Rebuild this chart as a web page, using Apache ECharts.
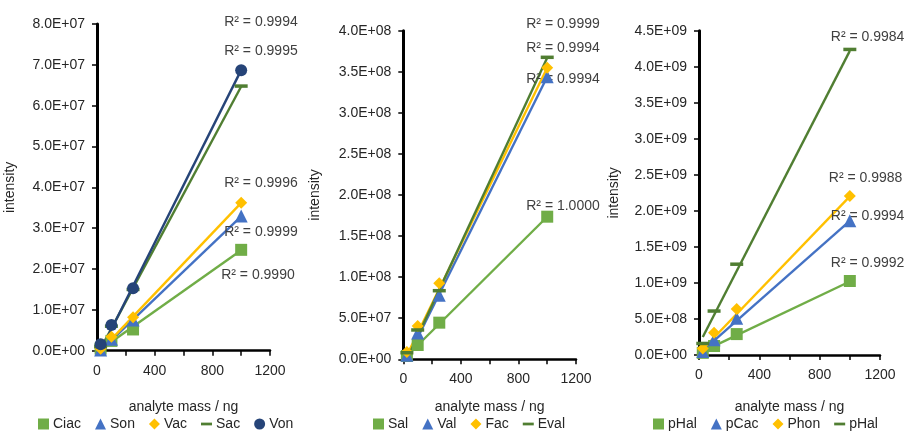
<!DOCTYPE html>
<html><head><meta charset="utf-8">
<script src="https://cdn.jsdelivr.net/npm/echarts@6/dist/echarts.min.js"></script>
<style>html,body{margin:0;padding:0;background:#fff}#c{width:904px;height:433px}</style>
</head><body><div id="c"></div>
<script>
// ---- data ----
const xMass = [25, 100, 250, 1000];
const trendX = [25, 1000];

// chart 1
const names1 = ['Ciac', 'Son', 'Vac', 'Sac', 'Von'];
const ciac = [0.05e7, 0.24e7, 0.52e7, 2.47e7];
const son  = [0.02e7, 0.28e7, 0.75e7, 3.30e7];
const vac  = [0.05e7, 0.34e7, 0.82e7, 3.62e7];
const sac  = [0.10e7, 0.60e7, 1.50e7, 6.48e7];
const von  = [0.16e7, 0.63e7, 1.53e7, 6.87e7];
const ciacTrend = [0.03e7, 2.46e7];
const sonTrend  = [0.00e7, 3.29e7];
const vacTrend  = [0.00e7, 3.62e7];
const sacTrend  = [0.05e7, 6.47e7];
const vonTrend  = [0.00e7, 6.87e7];
const r2_1 = ['R² = 0.9990', 'R² = 0.9999', 'R² = 0.9996', 'R² = 0.9994', 'R² = 0.9995'];

// chart 2
const names2 = ['Sal', 'Val', 'Fac', 'Eval'];
const sal   = [0.04e8, 0.174e8, 0.446e8, 1.736e8];
const val   = [0.05e8, 0.32e8, 0.78e8, 3.44e8];
const fac   = [0.09e8, 0.405e8, 0.925e8, 3.55e8];
const evalD = [0.08e8, 0.357e8, 0.835e8, 3.676e8];
const salTrend  = [0.04e8, 1.735e8];
const valTrend  = [0.00e8, 3.44e8];
const facTrend  = [0.05e8, 3.55e8];
const evalTrend = [0.00e8, 3.67e8];
const r2_2 = ['R² = 1.0000', 'R² = 0.9994', 'R² = 0.9994', 'R² = 0.9999'];

// chart 3
const names3 = ['pHal', 'pCac', 'Phon', 'pHal '];
const pHal  = [0.03e9, 0.125e9, 0.29e9, 1.027e9];
const pCac  = [0.05e9, 0.21e9, 0.51e9, 1.864e9];
const phon  = [0.09e9, 0.31e9, 0.638e9, 2.206e9];
const pHal2 = [0.16e9, 0.61e9, 1.26e9, 4.24e9];
const pHalTrend  = [0.05e9, 1.02e9];
const pCacTrend  = [0.06e9, 1.86e9];
const phonTrend  = [0.08e9, 2.20e9];
const pHal2Trend = [0.25e9, 4.22e9];
const r2_3 = ['R² = 0.9992', 'R² = 0.9994', 'R² = 0.9988', 'R² = 0.9984'];

// ---- styles ----
const C_GREEN = '#70AD47', C_BLUE = '#4472C4', C_GOLD = '#FFC000', C_DKGREEN = '#507E32', C_NAVY = '#264478';
const SYM = {
  square: {symbol: 'rect', size: 12},
  tri: {symbol: 'triangle', size: 13},
  dia: {symbol: 'diamond', size: 12},
  dash: {symbol: 'rect', size: [13, 3.5]},
  circ: {symbol: 'circle', size: 12}
};
const LEG_ICON = {square: 'rect', tri: 'triangle', dia: 'diamond', dash: 'path://M0,4.5H12V7.5H0Z', circ: 'circle'};
const FONT = 'Liberation Sans';
const TXT = '#262626';

function fmtE(v) {
  if (v === 0) return '0.0E+00';
  const e = Math.floor(Math.log10(Math.abs(v)) + 1e-9);
  const m = v / Math.pow(10, e);
  return m.toFixed(1) + 'E+' + (e < 10 ? '0' + e : e);
}

const charts = [
  {grid: {left: 97, top: 24, width: 173, height: 326.7}, ymax: 8e7, yint: 1e7, yNameGap: 80, xNameGap: 49,
   legendLeft: 33,
   items: [
     {name: names1[0], data: ciac, trend: ciacTrend, color: C_GREEN, sym: 'square', r2: r2_1[0], off: [-28, 25]},
     {name: names1[1], data: son, trend: sonTrend, color: C_BLUE, sym: 'tri', r2: r2_1[1], off: [-25, 16]},
     {name: names1[2], data: vac, trend: vacTrend, color: C_GOLD, sym: 'dia', r2: r2_1[2], off: [-25, -20]},
     {name: names1[3], data: sac, trend: sacTrend, color: C_DKGREEN, sym: 'dash', r2: r2_1[3], off: [-25, -64]},
     {name: names1[4], data: von, trend: vonTrend, color: C_NAVY, sym: 'circ', r2: r2_1[4], off: [-25, -19]}
   ]},
  {grid: {left: 403.3, top: 30.7, width: 172.7, height: 328.6}, ymax: 4e8, yint: 5e7, yNameGap: 81, xNameGap: 41,
   legendLeft: 368,
   items: [
     {name: names2[0], data: sal, trend: salTrend, color: C_GREEN, sym: 'square', r2: r2_2[0], off: [-29, -11]},
     {name: names2[1], data: val, trend: valTrend, color: C_BLUE, sym: 'tri', r2: r2_2[1], off: [-29, 2]},
     {name: names2[2], data: fac, trend: facTrend, color: C_GOLD, sym: 'dia', r2: r2_2[2], off: [-29, -20]},
     {name: names2[3], data: evalD, trend: evalTrend, color: C_DKGREEN, sym: 'dash', r2: r2_2[3], off: [-29, -34]}
   ]},
  {grid: {left: 699, top: 30.7, width: 181, height: 324.3}, ymax: 4.5e9, yint: 5e8, yNameGap: 78, xNameGap: 45,
   legendLeft: 648,
   items: [
     {name: names3[0], data: pHal, trend: pHalTrend, color: C_GREEN, sym: 'square', r2: r2_3[0], off: [-27, -18]},
     {name: names3[1], data: pCac, trend: pCacTrend, color: C_BLUE, sym: 'tri', r2: r2_3[1], off: [-27, -5]},
     {name: names3[2], data: phon, trend: phonTrend, color: C_GOLD, sym: 'dia', r2: r2_3[2], off: [-29, -18]},
     {name: names3[3], data: pHal2, trend: pHal2Trend, color: C_DKGREEN, sym: 'dash', r2: r2_3[3], off: [-27, -14]}
   ]}
];

const grid = [], xAxis = [], yAxis = [], series = [], legend = [];
charts.forEach((ch, i) => {
  grid.push(Object.assign({containLabel: false}, ch.grid));
  xAxis.push({
    type: 'value', gridIndex: i, min: 0, max: 1200, interval: 200,
    name: 'analyte mass / ng', nameLocation: 'middle', nameGap: ch.xNameGap,
    nameTextStyle: {fontFamily: FONT, fontSize: 14, color: TXT},
    axisLine: {show: true, onZero: false, lineStyle: {color: '#000', width: 2.5}},
    axisTick: {show: true, inside: false, length: 5, lineStyle: {color: '#000', width: 1.5}},
    axisLabel: {fontFamily: FONT, fontSize: 14, color: TXT, margin: 13,
      formatter: v => (v % 400 === 0 ? String(v) : '')},
    splitLine: {show: false}
  });
  yAxis.push({
    type: 'value', gridIndex: i, min: 0, max: ch.ymax, interval: ch.yint,
    name: 'intensity', nameLocation: 'middle', nameGap: ch.yNameGap, nameRotate: 90,
    nameTextStyle: {fontFamily: FONT, fontSize: 14, color: TXT},
    axisLine: {show: true, onZero: false, lineStyle: {color: '#000', width: 3}},
    axisTick: {show: true, inside: false, length: 5, lineStyle: {color: '#000', width: 1.5}},
    axisLabel: {fontFamily: FONT, fontSize: 14, color: TXT, margin: 12, formatter: fmtE},
    splitLine: {show: false}
  });
  ch.items.forEach(it => {
    series.push({
      type: 'line', name: it.name + '_trend', xAxisIndex: i, yAxisIndex: i,
      data: trendX.map((x, k) => [x, it.trend[k]]),
      showSymbol: false, symbol: 'none', silent: true, z: 2,
      lineStyle: {color: it.color, width: 2.4},
      endLabel: {show: true, formatter: it.r2, offset: it.off, fontFamily: FONT, fontSize: 14, color: '#404040'},
      labelLayout: {hideOverlap: false}
    });
  });
  ch.items.forEach(it => {
    const s = SYM[it.sym];
    series.push({
      type: 'scatter', name: it.name, xAxisIndex: i, yAxisIndex: i,
      data: xMass.map((x, k) => [x, it.data[k]]),
      symbol: s.symbol, symbolSize: s.size, z: 3,
      itemStyle: {color: it.color, opacity: 1}
    });
  });
  legend.push({
    left: ch.legendLeft, top: 412, itemWidth: 11, itemHeight: 11, itemGap: 14,
    selectedMode: false,
    textStyle: {fontFamily: FONT, fontSize: 14, color: TXT, padding: [0, 0, 0, -1]},
    data: ch.items.map(it => ({name: it.name, icon: LEG_ICON[it.sym], itemStyle: {color: it.color}}))
  });
});

const chart = echarts.init(document.getElementById('c'), null, {renderer: 'canvas'});
chart.setOption({animation: false, backgroundColor: '#fff', grid, xAxis, yAxis, series, legend});
</script></body></html>
